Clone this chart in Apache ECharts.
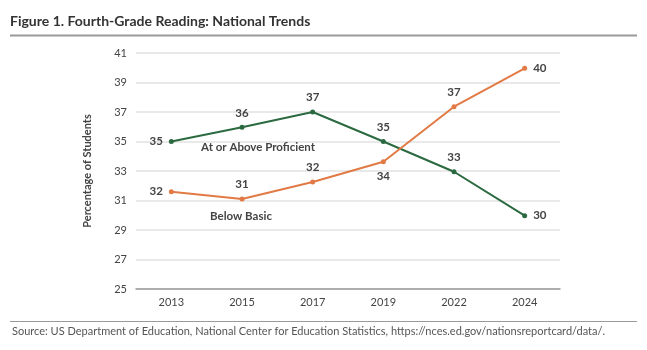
<!DOCTYPE html>
<html>
<head>
<meta charset="utf-8">
<script src="https://cdn.jsdelivr.net/npm/echarts@6/dist/echarts.min.js"></script>
<style>
  html, body { margin: 0; padding: 0; background: #fff; }
  #main { width: 647px; height: 350px; }
</style>
</head>
<body>
<div id="main"></div>
<script>
// values
var years = ['2013', '2015', '2017', '2019', '2022', '2024'];
var proficient = [35, 35.96, 37, 35, 32.95, 29.97];
var belowBasic = [31.6, 31.1, 32.25, 33.63, 37.36, 39.96];
var proficientLabelPos = ['left', 'top', 'top', 'top', 'top', 'right'];
var basicLabelPos = ['left', 'top', 'top', 'bottom', 'top', 'right'];

var GREEN = '#2b6a40';
var ORANGE = '#e17a45';
var TEXT = '#444';
var FONT = 'Lato';

function points (vals, positions) {
  return vals.map(function (v, i) {
    return { value: v, label: { position: positions[i] } };
  });
}

var labelStyle = {
  show: true,
  fontFamily: FONT,
  fontWeight: 'bold',
  fontSize: 11.5,
  color: TEXT,
  distance: 6,
  formatter: function (p) { return Math.round(p.value); }
};

var nameLabel = function (text, coord, offset) {
  return {
    symbol: 'circle',
    symbolSize: 0,
    silent: true,
    data: [{
      coord: coord,
      label: {
        show: true,
        position: 'inside',
        offset: offset,
        formatter: text,
        fontFamily: FONT,
        fontWeight: 'bold',
        fontSize: 11.5,
        color: TEXT
      }
    }]
  };
};

var chart = echarts.init(document.getElementById('main'));
chart.setOption({
  animation: false,
  textStyle: { fontFamily: FONT },
  graphic: [
    {
      type: 'text', left: 10, top: 14,
      style: { text: 'Figure 1. Fourth-Grade Reading: National Trends', font: 'bold 14px Lato', fill: '#333' }
    },
    {
      type: 'line', shape: { x1: 10, y1: 35.5, x2: 637, y2: 35.5 },
      style: { stroke: '#9a9a9a', lineWidth: 2 }
    },
    {
      type: 'line', shape: { x1: 10, y1: 321.5, x2: 637, y2: 321.5 },
      style: { stroke: '#9a9a9a', lineWidth: 1 }
    },
    {
      type: 'text', left: 12, top: 326,
      style: {
        text: 'Source: US Department of Education, National Center for Education Statistics, https://nces.ed.gov/nationsreportcard/data/.',
        font: '11px Lato', fill: '#555'
      }
    }
  ],
  grid: { left: 136, right: 87, top: 53, bottom: 61 },
  xAxis: {
    type: 'category',
    data: years,
    axisTick: { show: false },
    axisLine: { lineStyle: { color: '#999', width: 1.5 } },
    axisLabel: { fontSize: 11, color: TEXT, margin: 8 }
  },
  yAxis: {
    type: 'value',
    min: 25,
    max: 41,
    interval: 2,
    name: 'Percentage of Students',
    nameLocation: 'middle',
    nameRotate: 90,
    nameGap: 43,
    nameTextStyle: { fontSize: 11, fontWeight: 'bold', color: TEXT },
    axisLine: { show: false },
    axisTick: { show: false },
    axisLabel: { fontSize: 11, color: TEXT, margin: 9 },
    splitLine: { lineStyle: { color: '#e2e2e2', width: 1.5 } }
  },
  series: [
    {
      name: 'At or Above Proficient',
      type: 'line',
      data: points(proficient, proficientLabelPos),
      symbol: 'circle',
      symbolSize: 5,
      lineStyle: { color: GREEN, width: 2 },
      itemStyle: { color: GREEN },
      label: labelStyle,
      markPoint: nameLabel('At or Above Proficient', ['2015', 34.6], [16, 0])
    },
    {
      name: 'Below Basic',
      type: 'line',
      data: points(belowBasic, basicLabelPos),
      symbol: 'circle',
      symbolSize: 5,
      lineStyle: { color: ORANGE, width: 2 },
      itemStyle: { color: ORANGE },
      label: labelStyle,
      markPoint: nameLabel('Below Basic', ['2015', 29.95], [-1, 0])
    }
  ]
});
</script>
</body>
</html>
